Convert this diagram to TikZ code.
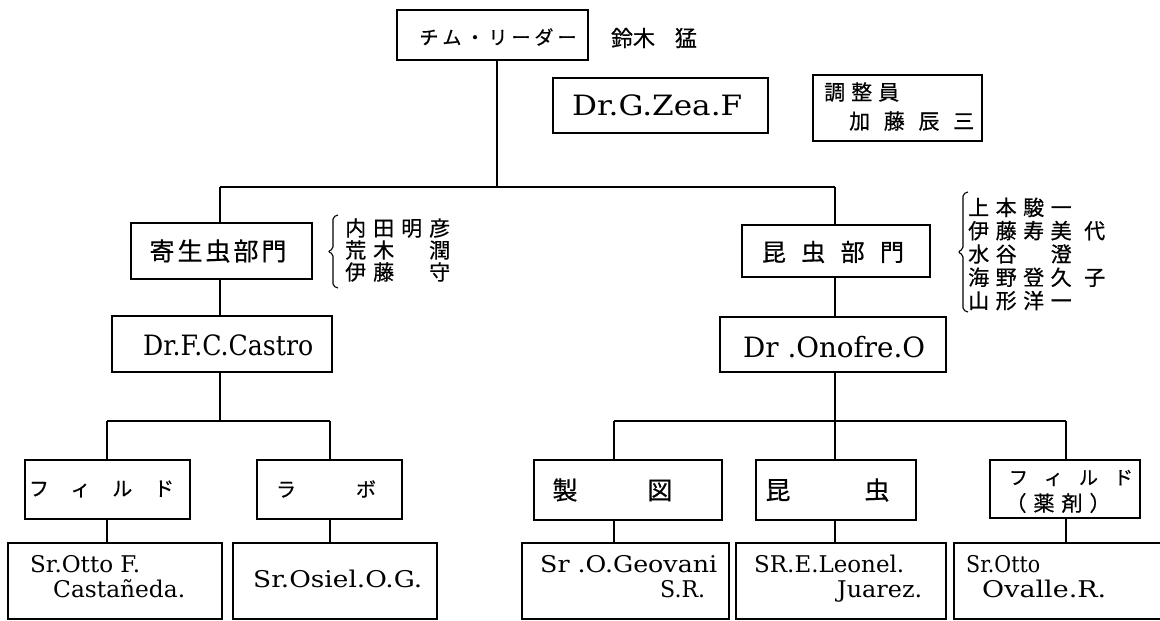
\documentclass[tikz,border=0pt]{standalone}
\usepackage{fontspec}
\usepackage{graphicx}
\setmainfont{DejaVu Serif}
\newfontfamily\jpf[FakeBold=0.6]{Noto Sans CJK JP}
\newfontfamily\latf{DejaVu Serif}
\newcommand\fw[2]{\resizebox{#1pt}{\height}{#2}}
\newcommand\sprd[2]{\makebox[#1pt][s]{#2}}
\newcommand\jc[1]{\makebox[28pt][l]{#1}}
\newcommand\jd[1]{\makebox[27.5pt][l]{#1}}
\begin{document}
\begin{tikzpicture}[x=1pt,y=-1pt,
  box/.style={draw, line width=1.4pt, inner sep=0pt},
  ln/.style={line width=1.4pt},
  br/.style={line width=1.1pt, rounded corners=2pt},
  lt/.style={font=\latf\fontsize{28}{28}\selectfont, inner sep=0pt, anchor=base west},
  ls/.style={font=\latf\fontsize{23}{23}\selectfont, inner sep=0pt, anchor=base west},
  jt/.style={font=\jpf\fontsize{21}{22}\selectfont, inner sep=0pt},
  jk/.style={font=\jpf\fontsize{20}{20}\selectfont, inner sep=0pt}]
\useasboundingbox (0,0) rectangle (1160,621);
\fill[white] (0,0) rectangle (1160,621);

% boxes
\node[box, minimum width=191pt, minimum height=50pt] (leader) at (492.5,35) {};
\node[box, minimum width=215pt, minimum height=55pt] (zea) at (660.5,105.5) {};
\node[box, minimum width=169pt, minimum height=66pt] (chosei) at (897.5,108) {};
\node[box, minimum width=181pt, minimum height=56pt] (kisei) at (221.5,251) {};
\node[box, minimum width=188pt, minimum height=52pt] (konchu) at (836,251) {};
\node[box, minimum width=220pt, minimum height=56pt] (castro) at (222,344) {};
\node[box, minimum width=226pt, minimum height=55pt] (onofre) at (833,344.5) {};
\node[box, minimum width=165pt, minimum height=59pt] (field) at (107.5,489.5) {};
\node[box, minimum width=145pt, minimum height=59pt] (rabo) at (329.5,489.5) {};
\node[box, minimum width=188pt, minimum height=60pt] (seizu) at (628,490) {};
\node[box, minimum width=160pt, minimum height=60pt] (kon) at (836,490) {};
\node[box, minimum width=150pt, minimum height=58pt] (yaku) at (1065,489) {};
\node[box, minimum width=214pt, minimum height=76pt] (b1) at (115,581) {};
\node[box, minimum width=204pt, minimum height=76pt] (b2) at (335,581) {};
\node[box, minimum width=207pt, minimum height=76pt] (b3) at (625.5,581) {};
\node[box, minimum width=210pt, minimum height=76pt] (b4) at (841,581) {};
\node[box, minimum width=221pt, minimum height=76pt] (b5) at (1064.5,581) {};

% junctions
\coordinate (j0) at (497,187);
\coordinate (jL) at (220,187);
\coordinate (jR) at (835,187);
\coordinate (k0) at (220,421);
\coordinate (kL) at (107,421);
\coordinate (kR) at (330,421);
\coordinate (m0) at (835,421);
\coordinate (mL) at (614,421);
\coordinate (mR) at (1066,421);

% connectors
\draw[ln] (leader.south -| j0) -- (j0);
\draw[ln] (jL) -- (jR);
\draw[ln] (jL) -- (jL |- kisei.north);
\draw[ln] (jR) -- (jR |- konchu.north);
\draw[ln] (kisei.south -| jL) -- (castro.north -| jL);
\draw[ln] (konchu.south -| jR) -- (onofre.north -| jR);
\draw[ln] (castro.south -| k0) -- (k0);
\draw[ln] (kL) -- (kR);
\draw[ln] (kL) -- (kL |- field.north);
\draw[ln] (kR) -- (kR |- rabo.north);
\draw[ln] (field.south -| kL) -- (b1.north -| kL);
\draw[ln] (rabo.south -| kR) -- (b2.north -| kR);
\draw[ln] (onofre.south -| m0) -- (m0);
\draw[ln] (mL) -- (mR);
\draw[ln] (mL) -- (mL |- seizu.north);
\draw[ln] (m0) -- (m0 |- kon.north);
\draw[ln] (mR) -- (mR |- yaku.north);
\draw[ln] (seizu.south -| mL) -- (b3.north -| mL);
\draw[ln] (kon.south -| m0) -- (b4.north -| m0);
\draw[ln] (yaku.south -| mR) -- (b5.north -| mR);

% braces
\draw[br] (338,215) -- (333,217) -- (333,249) -- (328,251.5) -- (333,254) -- (333,286) -- (338,288);
\draw[br] (968,192) -- (963,194) -- (963,249) -- (958,252) -- (963,255) -- (963,310) -- (968,312);

% Japanese texts
\node[jk, font=\jpf\fontsize{19}{19}\selectfont] (tleader) at (498,37) {\sprd{157}{チ\hfill ム\hfill ・\hfill リ\hfill ー\hfill ダ\hfill ー}};
\node[jt, font=\jpf\fontsize{22}{22}\selectfont] (suzuki) at (654,38) {鈴木\hspace{20pt}猛};
\node[jt, anchor=west] (chos1) at (824,92) {\sprd{75}{調\hfill 整\hfill 員}};
\node[jt, anchor=west] (chos2) at (849,121) {\sprd{125}{加\hfill 藤\hfill 辰\hfill 三}};
\node[jt, font=\jpf\fontsize{25}{25}\selectfont] (tkisei) at (218,251) {\sprd{137}{寄\hfill 生\hfill 虫\hfill 部\hfill 門}};
\node[jt, font=\jpf\fontsize{24}{24}\selectfont] (tkonchu) at (833,252) {\sprd{142}{昆\hfill 虫\hfill 部\hfill 門}};
\node[jt, font=\jpf\fontsize{21}{22}\selectfont, anchor=west, align=left] (namesL) at (345,250)
  {\jc{内}\jc{田}\jc{明}\jc{彦}\\ \jc{荒}\jc{木}\jc{}\jc{潤}\\ \jc{伊}\jc{藤}\jc{}\jc{守}};
\node[jt, font=\jpf\fontsize{21}{23.3}\selectfont, anchor=west, align=left] (namesR) at (968,254)
  {\jd{上}\jd{本}\jd{駿}\jd{一}\\ \jd{伊}\jd{藤}\jd{寿}\jd{美}\hspace{6pt}代\\ \jd{水}\jd{谷}\jd{}\jd{澄}\\ \jd{海}\jd{野}\jd{登}\jd{久}\hspace{6pt}子\\ \jd{山}\jd{形}\jd{洋}\jd{一}};
\node[jk] (tfield) at (101.5,489) {\sprd{145}{フ\hfill ィ\hfill ル\hfill ド}};
\node[jk] (trabo) at (326,489) {\sprd{100}{ラ\hfill ボ}};
\node[jt, font=\jpf\fontsize{25}{25}\selectfont] (tseizu) at (612.5,490) {\sprd{120}{製\hfill 図}};
\node[jt, font=\jpf\fontsize{25}{25}\selectfont] (tkon) at (827.5,490) {\sprd{124}{昆\hfill 虫}};
\node[jk, font=\jpf\fontsize{19}{19}\selectfont] (tyaku1) at (1071,478) {\sprd{124}{フ\hfill ィ\hfill ル\hfill ド}};
\node[jt, font=\jpf\fontsize{21}{21}\selectfont] (tyaku2) at (1058,503) {\sprd{105}{（\hfill 薬\hfill 剤\hfill ）}};

% Latin texts
\node[lt] (tzea) at (572,115) {\fw{170}{Dr.G.Zea.F}};
\node[lt] (tcastro) at (143,355) {\fw{170}{Dr.F.C.Castro}};
\node[lt] (tonofre) at (743,357) {\fw{182}{Dr .Onofre.O}};
\node[ls] (tb1a) at (30,572) {\fw{110}{Sr.Otto F.}};
\node[ls] (tb1b) at (53,597) {\fw{132}{Castañeda.}};
\node[ls] (tb2) at (253,587) {\fw{169}{Sr.Osiel.O.G.}};
\node[ls] (tb3a) at (540,572) {\fw{177}{Sr .O.Geovani}};
\node[ls] (tb3b) at (660,597) {\fw{45}{S.R.}};
\node[ls] (tb4a) at (754,572) {\fw{150}{SR.E.Leonel.}};
\node[ls] (tb4b) at (837,597) {\fw{85}{Juarez.}};
\node[ls] (tb5a) at (966,572) {\fw{74}{Sr.Otto}};
\node[ls] (tb5b) at (982,597) {\fw{124}{Ovalle.R.}};
\end{tikzpicture}
\end{document}
